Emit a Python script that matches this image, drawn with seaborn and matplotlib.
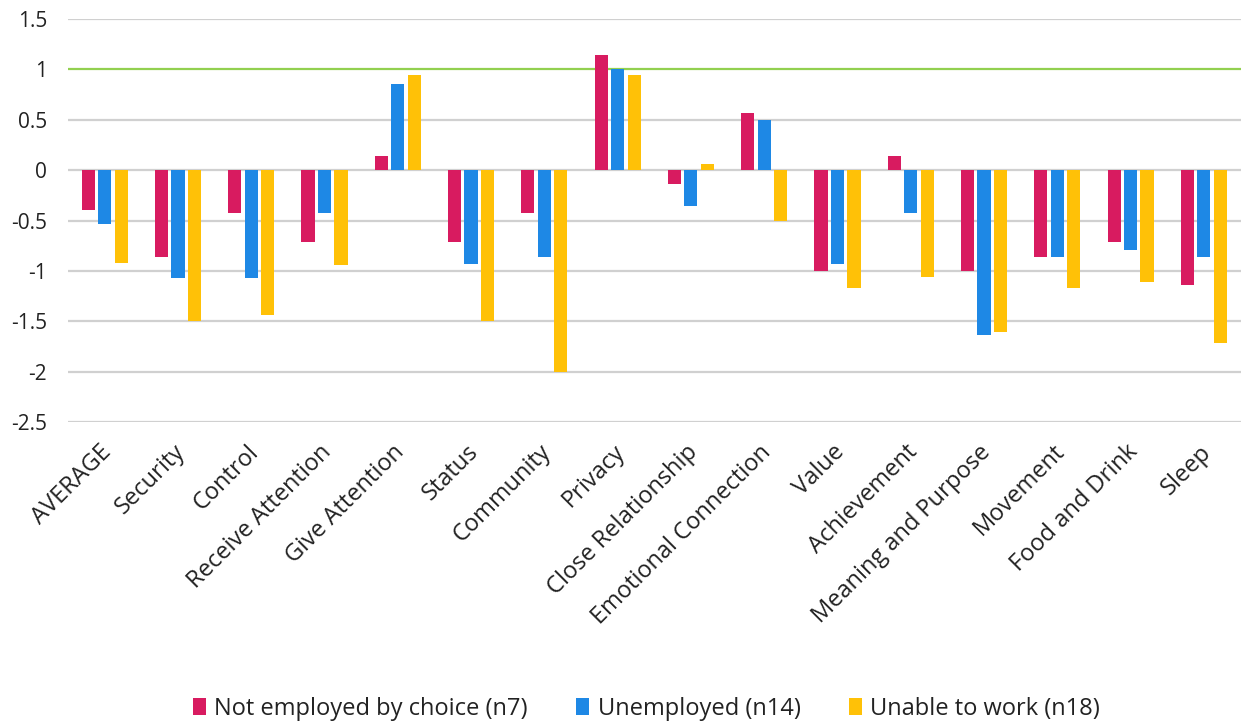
import matplotlib
matplotlib.use("Agg")
import matplotlib.pyplot as plt
import matplotlib.transforms as mtransforms
import pandas as pd
import seaborn as sns

categories = ["AVERAGE", "Security", "Control", "Receive Attention", "Give Attention",
              "Status", "Community", "Privacy", "Close Relationship", "Emotional Connection",
              "Value", "Achievement", "Meaning and Purpose", "Movement", "Food and Drink", "Sleep"]

not_employed_by_choice = [-0.40, -0.86, -0.43, -0.71, 0.14, -0.71, -0.43, 1.14, -0.14, 0.57,
                          -1.00, 0.14, -1.00, -0.86, -0.71, -1.14]
unemployed = [-0.53, -1.07, -1.07, -0.43, 0.86, -0.93, -0.86, 1.00, -0.36, 0.50,
              -0.93, -0.43, -1.64, -0.86, -0.79, -0.86]
unable_to_work = [-0.92, -1.50, -1.44, -0.94, 0.94, -1.50, -2.00, 0.94, 0.06, -0.50,
                  -1.17, -1.06, -1.61, -1.17, -1.11, -1.72]

series_names = ["Not employed by choice (n7)", "Unemployed (n14)", "Unable to work (n18)"]
series_colors = ["#D81B60", "#1E88E5", "#FFC107"]

y_ticks = [-2.5, -2, -1.5, -1, -0.5, 0, 0.5, 1, 1.5]
y_tick_labels = ["-2.5", "-2", "-1.5", "-1", "-0.5", "0", "0.5", "1", "1.5"]

rows = []
for name, values in zip(series_names, [not_employed_by_choice, unemployed, unable_to_work]):
    for cat, v in zip(categories, values):
        rows.append({"category": cat, "group": name, "score": v})
df = pd.DataFrame(rows)

sns.set_theme(style="white")
plt.rcParams["font.family"] = ["Open Sans", "DejaVu Sans"]

fig = plt.figure(figsize=(12.48, 7.21), dpi=100)
ax = fig.add_axes([0.0545, 0.4147, 0.9395, 0.5589])

sns.barplot(data=df, x="category", y="score", hue="group", order=categories,
            hue_order=series_names, palette=series_colors, width=0.675, gap=0.2,
            saturation=1, linewidth=0, errorbar=None, ax=ax, zorder=3)

ax.set_ylim(-2.5, 1.5)
ax.set_xlim(-0.5, len(categories) - 0.5)
ax.set_yticks(y_ticks)
ax.set_yticklabels(y_tick_labels, fontsize=15, color="#222222")
ax.tick_params(axis="y", length=0, pad=15)
ax.tick_params(axis="x", length=0, pad=13)

# horizontal reference lines; the target level of 1 is highlighted in green
for t in y_ticks:
    ax.axhline(t, color="#92D050" if t == 1 else "#D0D0D0", linewidth=1.6, zorder=1)

for s in ax.spines.values():
    s.set_visible(False)

ax.set_xticks(range(len(categories)))
ax.set_xticklabels(categories, rotation=45, ha="right", rotation_mode="anchor",
                   fontsize=17, color="#222222")
shift = mtransforms.ScaledTranslation(-5 / 100, 0, fig.dpi_scale_trans)
for lbl in ax.get_xticklabels():
    lbl.set_transform(lbl.get_transform() + shift)
ax.set_xlabel("")
ax.set_ylabel("")

handles, labels = ax.get_legend_handles_labels()
ax.legend(handles, labels, loc="center", bbox_to_anchor=(0.518, 0.017),
          bbox_transform=fig.transFigure, ncol=3, frameon=False, fontsize=17,
          handlelength=0.55, handleheight=0.7, handletextpad=0.35, columnspacing=2.05,
          labelcolor="#222222")

fig.savefig("out.png", dpi=100)
